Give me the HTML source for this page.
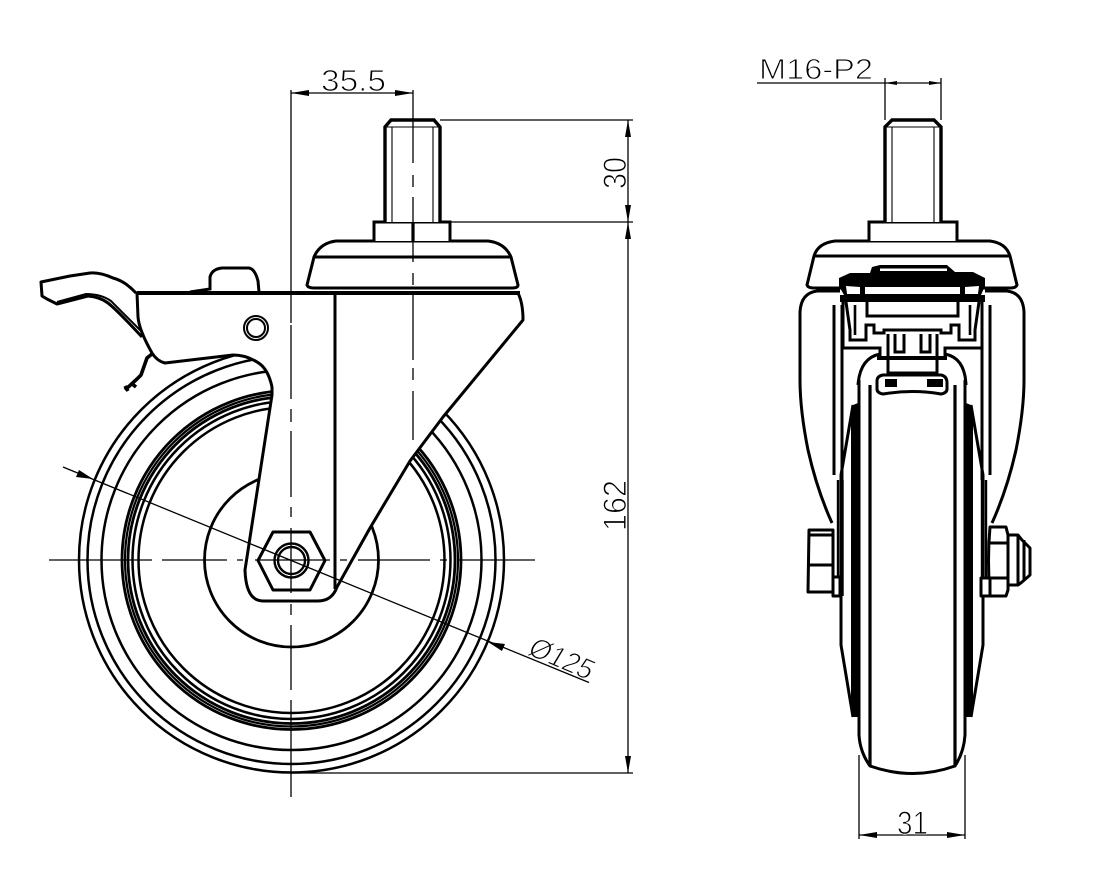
<!DOCTYPE html>
<html><head><meta charset="utf-8"><style>
html,body{margin:0;padding:0;background:#fff}
svg{display:block}
text{font-family:"Liberation Sans",sans-serif;fill:#000;stroke:#fff;stroke-width:1}
</style></head><body>
<svg width="1114" height="877" viewBox="0 0 1114 877" xmlns="http://www.w3.org/2000/svg">
<rect width="1114" height="877" fill="#fff"/>
<!-- wheel -->
<g fill="none" stroke="#000" stroke-width="2.5">
<circle cx="291.5" cy="560" r="212.5"/><circle cx="291.5" cy="560" r="204"/><circle cx="291.5" cy="560" r="190"/>
<circle cx="291.5" cy="560" r="169.5" stroke-width="2.8"/><circle cx="291.5" cy="560" r="166.5" stroke-width="2.2"/><circle cx="291.5" cy="560" r="163.5" stroke-width="2.8"/><circle cx="291.5" cy="560" r="159"/><circle cx="291.5" cy="560" r="153"/>
<circle cx="291.5" cy="560" r="87" stroke-width="2.8"/>
</g>
<!-- fork -->
<path d="M137,293 L518,293 Q523,303 523,320 L443,417 L410,461 L370,528 L337,587 Q332,601 318,601 L263,601 Q246,601 245,570 L272,395 L272,387 Q268,368 257,362 Q246,355 233,355 L165,363 Q157,361 152,353 Q139,330 138,317 Z" fill="#fff" stroke="#000" stroke-width="3" stroke-linejoin="round"/>
<path d="M137,293 H520" stroke="#000" stroke-width="4"/>
<path d="M335,294 V589" stroke="#000" stroke-width="3"/>
<!-- lever -->
<path d="M136,293 Q125,281 113,278 Q100,272 90,273 L70,276 L41,282 L42,296 L47,299 L57,304 L88,296 Q100,297 108,303 Q117,310 142,337" fill="none" stroke="#000" stroke-width="3" stroke-linejoin="round"/>
<path d="M57,302 L86,294 Q101,294 111,301 L143,333" fill="none" stroke="#000" stroke-width="2"/>
<path d="M152,354 L147,358 L141,375 L137,379 L125,390 M125,386 L128,391 M131,383 L136,387" fill="none" stroke="#000" stroke-width="3.6"/>
<path d="M190,292 L210,289 V277 Q212,269 222,268 H249 Q255,269 258,281 L259,292" fill="none" stroke="#000" stroke-width="3"/>
<circle cx="256" cy="328" r="12" fill="none" stroke="#000" stroke-width="2"/><circle cx="256" cy="328" r="9" fill="none" stroke="#000" stroke-width="2"/>
<!-- nut -->
<path d="M273,532 H310 L325,560.5 L310,590 H273 L258,560.5 Z" fill="#fff" stroke="#000" stroke-width="3" stroke-linejoin="round"/>
<circle cx="291.5" cy="560.5" r="17" fill="none" stroke="#000" stroke-width="2.4"/><circle cx="291.5" cy="560.5" r="13.5" fill="none" stroke="#000" stroke-width="2.4"/>
<!-- swivel plate left -->
<path d="M336,241 Q320,243 314,257 L307,285 Q308,288 314,288 H512 Q518,288 518,285 L511,257 Q505,243 488,241 Z" fill="#fff" stroke="#000" stroke-width="3" stroke-linejoin="round"/>
<path d="M314,257 H511" stroke="#000" stroke-width="3"/>
<path d="M374,241 V222 H450 V241" fill="#fff" stroke="#000" stroke-width="3"/>
<path d="M385,222 V127 L391,120 H434 L440,127 V222" fill="#fff" stroke="#000" stroke-width="3.4"/>
<path d="M392,222 V127 M433,222 V127 M385,127 H440" stroke="#000" stroke-width="1.1" fill="none"/>
<path d="M413,222 V241" stroke="#000" stroke-width="3.2"/>
<!-- centre lines -->
<g stroke="#000" stroke-width="1.3" fill="none">
<path d="M291,90 V323 M291,325 V399 M291,409 V422 M291,431 V497 M291,507 V517 M291,528 V593 M291,604 V615 M291,625 V690 M291,700 V797"/>
<path d="M413,90 V163 M413,175 V187 M413,197 V262 M413,273 V285 M413,295 V360 M413,368 V380 M413,391 V440"/>
<path d="M49,560 H152 M162,560 H227 M237,560 H243 M255,560 H330 M340,560 H347 M358,560 H430 M440,560 H447 M458,560 H535"/>
<path d="M63,467 L589,682.5"/>
<!-- dims left -->
<path d="M291,93 H413"/>
<path d="M440,120 H633 M450,222 H633 M291,773 H633"/>
<path d="M628,120 V773"/>
<!-- dims right -->
<path d="M757,83 H941 M885,78 V120 M941,78 V120"/>
<path d="M859,755 V839 M965,755 V839 M859,835 H965"/>
</g>
<g fill="#000">
<path d="M291,93 L309,90 V96 Z M413,93 L395,90 V96 Z"/>
<path d="M628,120 L625,137 H631 Z M628,222 L625,205 H631 Z M628,222 L625,239 H631 Z M628,773 L625,756 H631 Z"/>
<path d="M885,83 L897,81 V85 Z M941,83 L929,81 V85 Z"/>
<path d="M859,835 L877,832 V838 Z M965,835 L947,832 V838 Z"/>
<path d="M93,479 L76,477 L79,470 Z M488,642 L505,644 L502,651 Z"/>
</g>
<!-- right view : fork -->
<g fill="none" stroke="#000" stroke-width="3">
<path d="M832,523 Q817,490 808,450 Q800,410 800,380 V312 Q801,293 817,291 H840"/>
<path d="M992,523 Q1007,490 1016,450 Q1024,410 1024,380 V312 Q1023,293 1007,291 H985"/>
<path d="M834,305 V475 M842,305 V480 M990,305 V475 M982,305 V480"/>
<path d="M838,480 V596 M842.5,480 V596 M982,480 V596 M986,480 V596" stroke-width="2.4"/>
<path d="M858,385 Q860,358 880,354 M966,385 Q965,358 945,354"/>
<path d="M870,385 V766 M955,385 V766" stroke-width="3.2"/>
<path d="M859,380 V735 Q860,752 870,766 Q913,781 955,766 Q964,752 965,735 V380" stroke-width="3"/>
<path d="M853,405 L841,475 V645 L853,717 M971,405 L983,475 V645 L971,717"/>
</g>
<path d="M853,405 L858,403 V717 L853,717 L851,700 V420 Z M971,405 L966,403 V717 L971,717 L973,700 V420 Z" fill="#000"/>
<!-- right view : bolts -->
<g fill="#fff" stroke="#000" stroke-width="3" stroke-linejoin="round">
<path d="M833,530 H809 L808,592 H833 Z"/>
<path d="M808,535 H833 M808,565 H833" fill="none"/>
<rect x="833" y="577" width="7" height="19"/>
<path d="M1008,535 H1018 L1022,540 L1030,548 V575 L1022,582 L1018,585 H1008 Z"/>
<path d="M990,527 H1006 L1008,535 V590 L1006,596 H990 Q987,560 990,527 Z"/>
<path d="M990,543 H1008 M990,578 H1008 M1018,535 V585 M1024,540 V580" fill="none"/>
<rect x="981" y="578" width="9" height="18"/>
</g>
<!-- right view : top -->
<path d="M835,241 Q818,243 814,256 L807,285 Q808,288 814,288 H1010 Q1016,288 1017,285 L1010,256 Q1006,243 990,241 Z" fill="#fff" stroke="#000" stroke-width="3" stroke-linejoin="round"/>
<path d="M814,256 H1010" stroke="#000" stroke-width="3"/>
<path d="M869,241 V222 H957 V241" fill="#fff" stroke="#000" stroke-width="3"/>
<path d="M885,222 V127 L892,120 H934 L941,127 V222" fill="#fff" stroke="#000" stroke-width="3.4"/>
<path d="M892,222 V127 M934,222 V127 M885,127 H941" stroke="#000" stroke-width="1.1" fill="none"/>
<!-- bracket -->
<path d="M843,300 H982 V348 H945 V358 H880 V348 H843 Z" fill="#fff" stroke="#000" stroke-width="3"/>
<path d="M839,278 L850,273 H870 L872,267 L880,265 H947 L955,272 H973 L985,278 V286 L981,295 H985 V302 H840 V295 H844 L839,286 Z" fill="#000"/>
<path d="M880,268.500 H947 V271 H880 Z M865,287 H960 V294 H865 Z M846,286 L860,287 V294 H847 Z M979,286 L965,287 V294 H978 Z" fill="#fff"/>
<g fill="none" stroke="#000" stroke-width="3">
<path d="M867,302 V316 H958 V302"/>
<path d="M846,302 L850,330 V340 H866 V325 H874 V333 H884 V330 H941 V333 H951 V325 H959 V340 H975 V330 L979,302"/>
<path d="M855,305 V335 M970,305 V335 M843,302 V348 M982,302 V348" stroke-width="2.6"/>
<path d="M895,334 V352 H904 V334 M921,334 V352 H930 V334 M888,334 V358 M937,334 V358"/>
<path d="M877,358 H947" stroke-width="4"/>
<path d="M888,358 V375 M937,358 V375"/>
<path d="M888,373 H937"/>
<path d="M883,375 H941 Q947,376 947,383 V389 Q947,393 941,394 Q913,389 883,394 Q877,393 877,389 V381 Q877,376 883,375 Z" fill="#fff" stroke-width="3"/>
</g>
<rect x="885" y="379" width="12" height="8" fill="#000"/><rect x="927" y="379" width="16" height="8" fill="#000"/>
<!-- text -->
<text x="321" y="91" font-size="31" textLength="65" lengthAdjust="spacingAndGlyphs">35.5</text>
<text x="759" y="79" font-size="29" textLength="114" lengthAdjust="spacingAndGlyphs">M16-P2</text>
<text x="897" y="834" font-size="32" textLength="31" lengthAdjust="spacingAndGlyphs">31</text>
<text transform="translate(626,189) rotate(-90)" font-size="32" textLength="32" lengthAdjust="spacingAndGlyphs">30</text>
<text transform="translate(626,531) rotate(-90)" font-size="32" textLength="51" lengthAdjust="spacingAndGlyphs">162</text>
<text transform="translate(526,654) rotate(23) skewX(-8)" font-size="29" textLength="67" lengthAdjust="spacingAndGlyphs">Ø125</text>
</svg>
</body></html>
